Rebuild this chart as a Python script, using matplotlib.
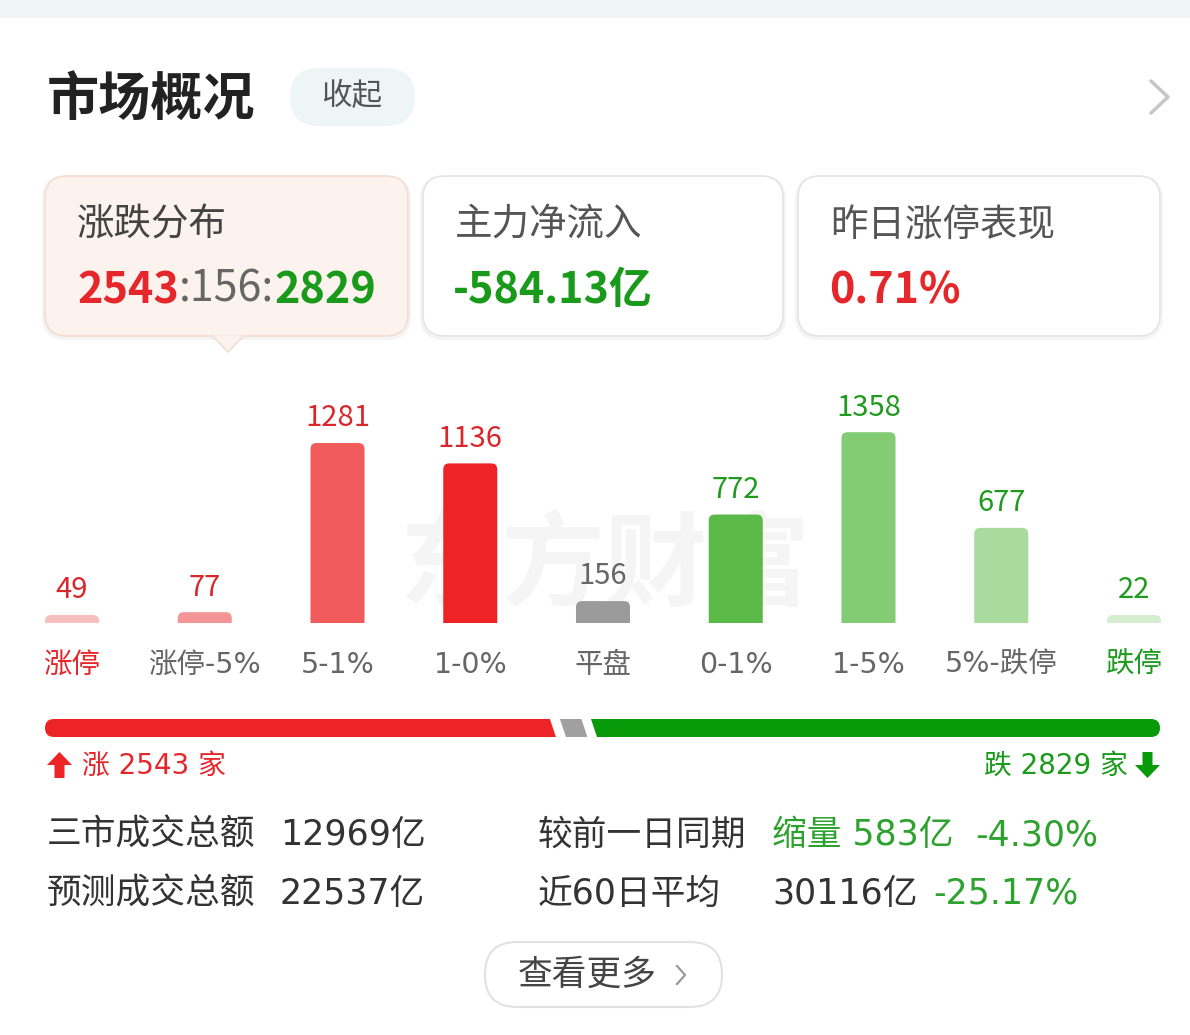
import numpy as np
import matplotlib.pyplot as plt
from matplotlib.patches import FancyBboxPatch, Polygon, Rectangle

# ---- data ----
categories = ['涨停', '涨停-5%', '5-1%', '1-0%', '平盘', '0-1%', '1-5%', '5%-跌停', '跌停']
counts = [49, 77, 1281, 1136, 156, 772, 1358, 677, 22]
bar_colors = ['#F7BEC0', '#F39597', '#F25B5B', '#EE2326', '#9B9B9B',
              '#5AB947', '#84CC74', '#AADB9E', '#D5EECF']
value_colors = ['#D9262B'] * 4 + ['#666666'] + ['#1E9A1E'] * 4
label_colors = ['#E5262B'] + ['#666666'] * 7 + ['#1E9A1E']

up_count, flat_count, down_count = 2543, 156, 2829
net_inflow = '-584.13亿'
limit_up_perf = '0.71%'
card_titles = ['涨跌分布', '主力净流入', '昨日涨停表现']

turnover_total = '12969亿'
turnover_forecast = '22537亿'
vs_prev_day = ['缩量 583亿', '-4.30%']
avg_60d = ['30116亿', '-25.17%']

RED = '#E5262B'
GREEN = '#1A9A1A'
LGREEN = '#2EA22E'
DARK = '#333333'
MIX = ['DejaVu Sans', 'Noto Sans CJK SC']  # wider digits, CJK falls back to Noto

plt.rcParams['font.family'] = ['Noto Sans CJK SC', 'DejaVu Sans']

W, H = 1190, 1035
fig = plt.figure(figsize=(W / 100, H / 100), dpi=100)
fig.patch.set_facecolor('white')

# background axes in pixel units for the page chrome
ui = fig.add_axes([0, 0, 1, 1])
ui.set_xlim(0, W)
ui.set_ylim(H, 0)
ui.axis('off')


def px_axes(x0, y0, x1, y1):
    return fig.add_axes([x0 / W, 1 - y1 / H, (x1 - x0) / W, (y1 - y0) / H])


ui.add_patch(Rectangle((0, 0), W, 18, color='#EFF4F4', lw=0))

# header
ui.text(47, 100, '市场概况', fontsize=37.5, weight='bold', color='#222222', va='center')
ui.add_patch(FancyBboxPatch((290, 68), 125, 58, boxstyle='round,pad=0,rounding_size=29',
                            fc='#EEF5F5', ec='none'))
ui.text(352, 96, '收起', fontsize=22, color='#555555', ha='center', va='center')
ui.plot([1151, 1168, 1151], [81, 97, 113], color='#C6C6C6', lw=2.5, solid_capstyle='round')

# summary cards
cards = [(45, 408), (423, 783), (798, 1160)]
for i, (x0, x1) in enumerate(cards):
    fc = '#FDF3EE' if i == 0 else 'white'
    ec = '#F3DDD2' if i == 0 else '#E4E4E4'
    ui.add_patch(FancyBboxPatch((x0 - 1, 178), x1 - x0 + 2, 160, boxstyle='round,pad=0,rounding_size=22',
                                fc='none', ec='#F4F4F4', lw=3))
    ui.add_patch(FancyBboxPatch((x0, 176), x1 - x0, 160, boxstyle='round,pad=0,rounding_size=22',
                                fc=fc, ec=ec, lw=1.2))
    ui.text(x0 + 32, 225, card_titles[i], fontsize=27, color='#444444' if i == 0 else '#555555',
            va='center')
ui.add_patch(Polygon([(212, 335.5), (228, 352), (244, 335.5)], closed=False,
                     fc='#FDF3EE', ec='#F3DDD2', lw=1.2))

fig.canvas.draw()
renderer = fig.canvas.get_renderer()


def put_row(x, y, parts, size):
    for s, c, w in parts:
        t = ui.text(x, y, s, fontsize=size, color=c, weight=w, va='center')
        x += t.get_window_extent(renderer).width


put_row(77, 290, [(str(up_count), RED, 'bold'), (f':{flat_count}:', '#666666', 'normal'),
                  (str(down_count), GREEN, 'bold')], 31)
ui.text(453, 290, net_inflow, fontsize=31, weight='bold', color=GREEN, va='center')
ui.text(829, 290, limit_up_perf, fontsize=31, weight='bold', color=RED, va='center')

# watermark
ui.text(605, 568, '东方财富', fontsize=74, weight='bold', color='#F5F5F5',
        ha='center', va='center')

# ---- distribution bars ----
bax = px_axes(32.2, 380, 1173.8, 623)
bax.patch.set_visible(False)
bax.set_xlim(-0.3, 8.3)
bax.set_ylim(0, 1729.5)
for sp in bax.spines.values():
    sp.set_visible(False)
bax.set_yticks([])

x = np.arange(len(counts))
shown = np.maximum(counts, 57)  # tiny bars keep a minimum visible height
bar_w = 0.407
for xi, h, v, c, vc in zip(x, shown, counts, bar_colors, value_colors):
    bax.add_patch(FancyBboxPatch((xi - bar_w / 2, -80), bar_w, h + 80,
                                 boxstyle='round,pad=0,rounding_size=0.045',
                                 mutation_aspect=945, fc=c, ec='none'))
    bax.annotate(str(v), (xi, h), xytext=(0, 12), textcoords='offset points',
                 ha='center', va='baseline', fontsize=21, color=vc)

bax.set_xticks(x, categories)
bax.tick_params(axis='x', length=0, pad=20)
for lab, c in zip(bax.get_xticklabels(), label_colors):
    lab.set_color(c)
    lab.set_family(MIX)
    lab.set_fontsize(20.5)

# ---- up / flat / down strip ----
total = up_count + flat_count + down_count
bb = px_axes(45, 719, 1160, 737)
bb.set_xlim(0, total)
bb.set_ylim(0, 1)
bb.axis('off')
ppx = 1115 / total
slant, gap, rad = 6 / ppx, 10 / ppx, 9 / ppx
clip = FancyBboxPatch((0, 0), total, 1, boxstyle=f'round,pad=0,rounding_size={rad}',
                      mutation_aspect=0.5 / rad, transform=bb.transData)
bounds = np.cumsum([0, up_count, flat_count, down_count])
for a, b, c in zip(bounds[:-1], bounds[1:], ['#EE2326', '#A0A0A0', '#089A08']):
    lt = a + gap / 2 - slant / 2 if a > 0 else a
    lb = a + gap / 2 + slant / 2 if a > 0 else a
    rt = b - gap / 2 - slant / 2 if b < total else b
    rbm = b - gap / 2 + slant / 2 if b < total else b
    poly = Polygon([(lb, 0), (rbm, 0), (rt, 1), (lt, 1)], fc=c, ec='none')
    bb.add_patch(poly)
    poly.set_clip_path(clip)

# arrows and counts
ui.add_patch(Polygon([(59.5, 752), (72, 765), (64.5, 765), (64.5, 778), (54.5, 778),
                      (54.5, 765), (47, 765)], fc='#EE2326', ec='none'))
ui.add_patch(Polygon([(1147.5, 778), (1160, 765), (1152.5, 765), (1152.5, 752), (1142.5, 752),
                      (1142.5, 765), (1135, 765)], fc='#089A08', ec='none'))
ui.text(82, 766, f'涨 {up_count} 家', fontsize=20, color=RED, va='center', family=MIX)
ui.text(1128, 766, f'跌 {down_count} 家', fontsize=20, color=GREEN, va='center', ha='right',
        family=MIX)

# ---- turnover stats ----
ui.text(47, 835, '三市成交总额', fontsize=25, color=DARK, va='center')
ui.text(280, 835, turnover_total, fontsize=25, color=DARK, va='center', family=MIX)
ui.text(538, 835, '较前一日同期', fontsize=25, color=DARK, va='center')
ui.text(772, 835, vs_prev_day[0], fontsize=25, color=LGREEN, va='center', family=MIX)
ui.text(975, 835, vs_prev_day[1], fontsize=25, color=LGREEN, va='center', family=MIX)

ui.text(47, 894, '预测成交总额', fontsize=25, color=DARK, va='center')
ui.text(280, 894, turnover_forecast, fontsize=25, color=DARK, va='center', family=MIX)
ui.text(538, 894, '近60日平均', fontsize=25, color=DARK, va='center', family=MIX)
ui.text(772, 894, avg_60d[0], fontsize=25, color=DARK, va='center', family=MIX)
ui.text(933, 894, avg_60d[1], fontsize=25, color=LGREEN, va='center', family=MIX)

# more button
ui.add_patch(FancyBboxPatch((485, 942), 237, 65, boxstyle='round,pad=0,rounding_size=32',
                            fc='white', ec='#E2E2E2', lw=1.5))
ui.text(518, 975, '查看更多', fontsize=25, color='#444444', va='center')
ui.plot([677, 685, 677], [966, 975, 984], color='#9A9A9A', lw=1.6)

fig.savefig('out.png', dpi=100, facecolor='white')
